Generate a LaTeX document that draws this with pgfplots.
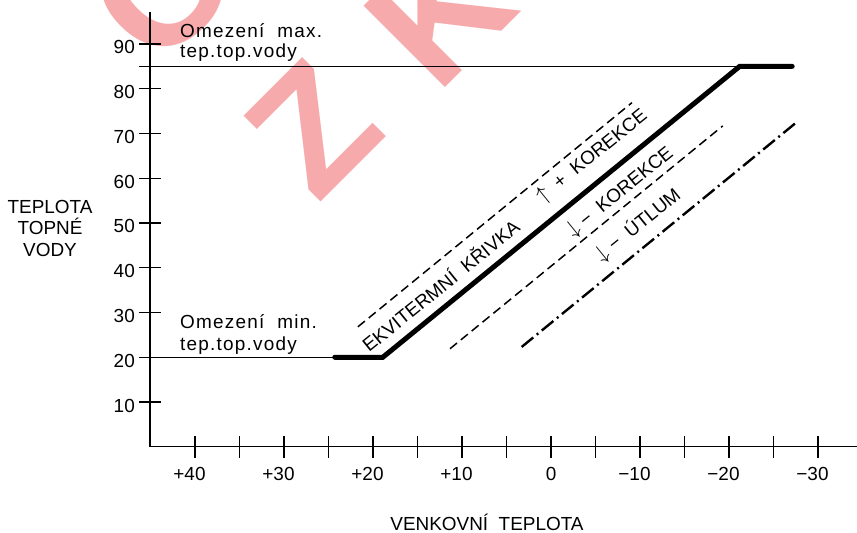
\documentclass[border=0pt]{standalone}
\usepackage{pgfplots}
\pgfplotsset{compat=1.18}
\usepackage{graphicx}
\usepackage{fontspec}
\setmainfont{Liberation Sans}
\newfontfamily\annfont[LetterSpace=6.5]{Liberation Sans}
\definecolor{wm}{RGB}{246,170,172}
\begin{document}
\begin{tikzpicture}
\path[use as bounding box] (0,0) rectangle (857bp,-533bp);
% watermark
\begin{scope}
\clip (0,0) rectangle (857bp,-533bp);
\tikzset{wmk/.style={text=wm, font=\fontsize{168}{168}\selectfont\bfseries, rotate=45, inner sep=0pt}}
\node[wmk] at (313bp,-129bp) {Z};
\node[wmk] at (440bp,-12bp) {K};
\node[wmk] at (163bp,14bp) {O};
\end{scope}
\begin{axis}[
  at={(150bp,-446.75bp)}, anchor=south west,
  scale only axis, width=707bp, height=434.75bp,
  x dir=reverse, xmin=-34.38, xmax=45.06, ymin=0, ymax=97.15,
  axis x line=bottom, axis y line=left,
  axis line style={-, line width=1.3bp, black},
  tick align=center, major tick length=22bp,
  tick style={line width=1.3bp, black},
  xtick={-30,-25,...,40},
  xticklabels={\llap{−}30,,\llap{−}20,,\llap{−}10,,0,,\llap{+}10,,\llap{+}20,,\llap{+}30,,\llap{+}40},
  ytick={10,20,...,90},
  yticklabels={10,20,30,40,50,60,70,80,90},
  ticklabel style={font=\fontsize{19}{22}\selectfont, inner sep=0pt},
  xticklabel style={anchor=base, yshift=-23bp},
  yticklabel style={anchor=base east, xshift=-4bp, yshift=-10bp},
  clip=false,
]
% limit lines
\addplot[black, line width=1.3bp] coordinates {(46.3,85) (-21.2,85)};
\addplot[black, line width=1.3bp] coordinates {(46.3,20) (24.3,20)};
% heating curve
\addplot[black, line width=5bp, line cap=round, line join=miter] coordinates {(24.3,20) (18.9,20) (-21.2,85) (-27.1,85)};
% + correction
\addplot[black, line width=1.5bp, dash pattern=on 9bp off 5bp] coordinates {(21.7,26.8) (-9.1,76.9)};
% - correction
\addplot[black, line width=1.5bp, dash pattern=on 9bp off 5bp] coordinates {(11.35,21.9) (-19.3,71.7)};
% attenuation
\addplot[black, line width=2.4bp, dash pattern=on 15bp off 4.5bp on 2bp off 4.5bp] coordinates {(3.3,22.3) (-27.4,72.2)};
\end{axis}
% annotations (pixel coordinates)
\tikzset{lab/.style={inner sep=0pt, font=\fontsize{19}{21.5}\selectfont}}
\node[lab, anchor=base west, font=\annfont\fontsize{19}{21.5}\selectfont] at (180bp,-37bp) {Omezení\ \ max.};
\node[lab, anchor=base west, font=\annfont\fontsize{19}{21.5}\selectfont] at (180bp,-57bp) {tep.top.vody};
\node[lab, anchor=base west, font=\annfont\fontsize{19}{21.5}\selectfont] at (180bp,-328bp) {Omezení\ \ min.};
\node[lab, anchor=base west, font=\annfont\fontsize{19}{21.5}\selectfont] at (180bp,-350bp) {tep.top.vody};
\node[lab, align=center, anchor=north] at (50bp,-200bp) {TEPLOTA\\TOPNÉ\\VODY};
\node[lab, anchor=base] at (487bp,-530bp) {VENKOVNÍ\ \ TEPLOTA};
\node[lab, rotate=39] at (440bp,-285bp) {EKVITERMNÍ\ \ KŘIVKA};
\node[lab, rotate=39] at (592bp,-156bp) {\scalebox{1.3}{$\uparrow$}\ \ +\ \ KOREKCE};
\node[lab, rotate=39] at (620bp,-192bp) {\scalebox{1.3}{$\downarrow$}\ −\ \ KOREKCE};
\node[lab, rotate=39] at (638bp,-225bp) {\scalebox{1.3}{$\downarrow$}\ −\ \ ÚTLUM};
\end{tikzpicture}
\end{document}
